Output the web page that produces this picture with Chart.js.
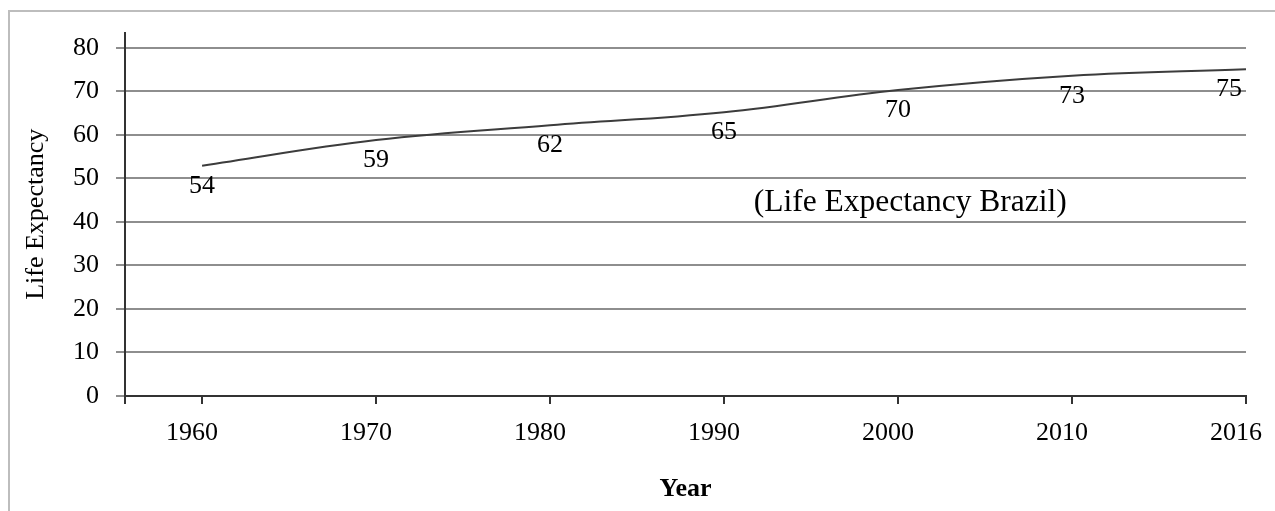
<!DOCTYPE html>
<html>
<head>
<meta charset="utf-8">
<script src="https://cdn.jsdelivr.net/npm/chart.js@4.4.1/dist/chart.umd.min.js"></script>
<style>
    html, body { margin: 0; padding: 0; background: #fff; }
    #wrap { position: relative; width: 1275px; height: 511px; overflow: hidden; }
    #frame {
        position: absolute; left: 8px; top: 10px; width: 1400px; height: 600px;
        border-left: 2px solid #bdbdbd; border-top: 2px solid #bdbdbd;
    }
    #chart { position: absolute; left: 0; top: 0; }
</style>
</head>
<body>
<div id="wrap">
    <div id="frame"></div>
    <canvas id="chart" width="1275" height="511"></canvas>
</div>
<script>
// data
const years = ["1960", "1970", "1980", "1990", "2000", "2010", "2016"];
const lifeExpectancy = [52.9, 58.8, 62.2, 65.2, 70.3, 73.6, 75.1];
const valueLabels = ["54", "59", "62", "65", "70", "73", "75"];
const yTicks = [0, 10, 20, 30, 40, 50, 60, 70, 80];
const seriesName = "(Life Expectancy Brazil)";

const serif = "'Liberation Serif', 'Times New Roman', serif";
const xMin = -0.443;

const pointLabels = {
    id: "pointLabels",
    afterDatasetsDraw(chart) {
        const ctx = chart.ctx;
        const meta = chart.getDatasetMeta(0);
        const area = chart.chartArea;
        ctx.save();
        ctx.font = "26px " + serif;
        ctx.fillStyle = "#000";
        ctx.textBaseline = "middle";
        ctx.textAlign = "center";
        meta.data.forEach((pt, i) => {
            const text = valueLabels[i];
            const w = ctx.measureText(text).width;
            let x = pt.x;
            if (x + w / 2 > area.right - 4) x = area.right - 4 - w / 2;
            ctx.fillText(text, x, pt.y + 20);
        });
        // series caption inside the plot
        ctx.font = "31.5px " + serif;
        ctx.fillText(seriesName,
            chart.scales.x.getPixelForValue(4.07),
            chart.scales.y.getPixelForValue(44.3));
        ctx.restore();
    },
};

new Chart(document.getElementById("chart"), {
    type: "line",
    data: {
        datasets: [
            {
                label: seriesName,
                data: lifeExpectancy.map((v, i) => ({ x: i, y: v })),
                borderColor: "#3c3c3c",
                borderWidth: 2,
                tension: 0.4,
                pointRadius: 0,
                fill: false,
            },
        ],
    },
    options: {
        responsive: false,
        animation: false,
        layout: { padding: { left: 0, top: 32, right: 29, bottom: 0 } },
        plugins: {
            legend: { display: false },
            tooltip: { enabled: false },
        },
        scales: {
            x: {
                type: "linear",
                min: xMin,
                max: years.length - 1,
                afterFit: (s) => {
                    s.height = 115;
                    s.paddingRight = 0;
                    s.paddingLeft = 0;
                },
                afterBuildTicks: (s) => {
                    s.ticks = [{ value: xMin }].concat(years.map((y, i) => ({ value: i })));
                },
                ticks: {
                    autoSkip: false,
                    maxRotation: 0,
                    padding: 14,
                    labelOffset: -10,
                    color: "#000",
                    font: { family: serif, size: 26 },
                    callback: (v) => (Number.isInteger(v) && years[v]) ? years[v] : "",
                },
                grid: {
                    drawOnChartArea: false,
                    drawTicks: true,
                    tickLength: 8,
                    color: "#333",
                    lineWidth: 2,
                },
                border: { color: "#333", width: 2 },
                title: {
                    display: true,
                    text: "Year",
                    color: "#000",
                    font: { family: serif, size: 26, weight: "bold" },
                    padding: { top: 0, bottom: 6 },
                },
            },
            y: {
                min: 0,
                max: 83.5,
                afterFit: (s) => { s.width = 125; },
                afterBuildTicks: (s) => {
                    s.ticks = yTicks.map((v) => ({ value: v }));
                },
                ticks: {
                    padding: 17,
                    color: "#000",
                    font: { family: serif, size: 26 },
                },
                grid: {
                    color: "#8e8e8e",
                    lineWidth: 2,
                    tickLength: 9,
                },
                border: { color: "#333", width: 2 },
                title: {
                    display: true,
                    text: "Life Expectancy",
                    color: "#000",
                    font: { family: serif, size: 26 },
                    padding: { top: 21, bottom: 0 },
                },
            },
        },
    },
    plugins: [pointLabels],
});
</script>
</body>
</html>
